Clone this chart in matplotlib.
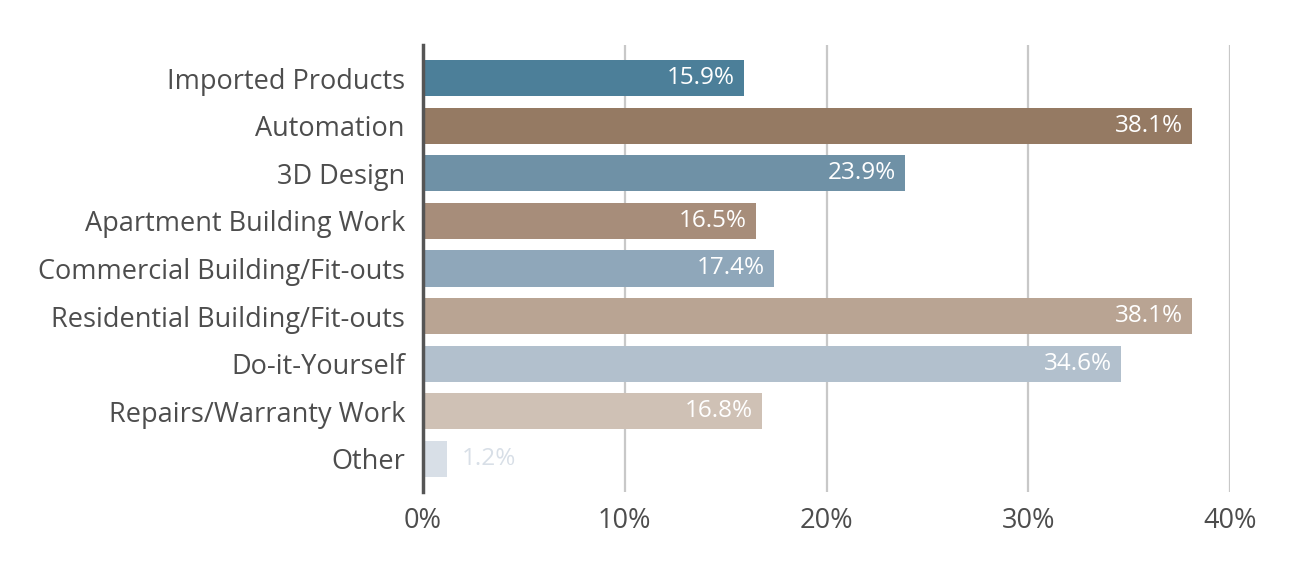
import matplotlib.pyplot as plt

categories = [
    "Imported Products",
    "Automation",
    "3D Design",
    "Apartment Building Work",
    "Commercial Building/Fit-outs",
    "Residential Building/Fit-outs",
    "Do-it-Yourself",
    "Repairs/Warranty Work",
    "Other",
]
values = [15.9, 38.1, 23.9, 16.5, 17.4, 38.1, 34.6, 16.8, 1.2]
colors = ["#4C7F99", "#957A63", "#6F91A6", "#A78D7A", "#8FA7BA",
          "#B9A493", "#B2C0CD", "#CFC1B5", "#D8DFE7"]
ticks = [0, 10, 20, 30, 40]

plt.rcParams["font.family"] = ["Open Sans", "DejaVu Sans"]

fig = plt.figure(figsize=(13, 5.62), dpi=100)
ax = fig.add_axes([0.3254, 0.1246, 0.6208, 0.7954])

ypos = list(range(len(categories)))
ax.barh(ypos, values, height=0.76, color=colors, zorder=3)

for y, v, c in zip(ypos, values, colors):
    label = f"{v}%"
    if v > 5:
        ax.text(v - 0.45, y, label, ha="right", va="center", color="white",
                fontsize=17.5, zorder=4)
    else:
        ax.text(v + 0.7, y, label, ha="left", va="center", color=c,
                fontsize=17.5, zorder=4)

ax.set_xlim(0, 40)
ax.set_ylim(8.7, -0.7)
ax.set_yticks(ypos)
ax.set_yticklabels(categories, fontsize=19.5, color="#4D4D4D")
ax.set_xticks(ticks)
ax.set_xticklabels([f"{t}%" for t in ticks], fontsize=19.5, color="#4D4D4D")
ax.tick_params(axis="both", length=0)
ax.tick_params(axis="y", pad=13)
ax.tick_params(axis="x", pad=11)

ax.grid(axis="x", color="#C8C8C8", linewidth=1.6, zorder=0)
for spine in ["top", "right", "bottom"]:
    ax.spines[spine].set_visible(False)
ax.spines["left"].set_color("#555555")
ax.spines["left"].set_linewidth(2.5)
ax.spines["left"].set_zorder(5)

fig.savefig("out.png", dpi=100)
